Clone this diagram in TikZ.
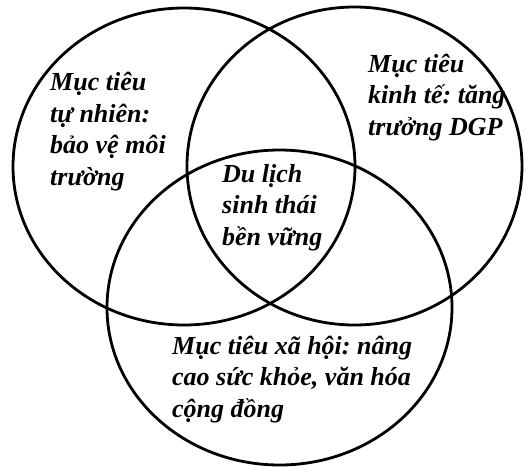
\documentclass[tikz,border=0pt]{standalone}
\usepackage{fontspec}
\setmainfont{Liberation Serif}
\usetikzlibrary{shapes.geometric}
\frenchspacing
\tikzset{
  ring/.style={draw,ellipse,line width=2.8pt,inner sep=0pt},
  goal/.style={anchor=base west,inner sep=0pt,align=left,
    font=\fontsize{26}{31.5}\selectfont\bfseries\itshape}
}
\begin{document}
\begin{tikzpicture}[x=1pt,y=-1pt]
\useasboundingbox (0,0) rectangle (526,466);
\node[ring,minimum width=342pt,minimum height=317pt] (nature) at (184,166.5) {};
\node[ring,minimum width=335pt,minimum height=318pt] (economy) at (354.5,166) {};
\node[ring,minimum width=345pt,minimum height=315pt] (society) at (279.5,307.5) {};
% base anchor sits on the last line
\node[goal] (tnature) at (50,185) {Mục tiêu\\tự nhiên:\\bảo vệ môi\\trường};
\node[goal] (teconomy) at (368,135) {Mục tiêu\\kinh tế: tăng\\trưởng DGP};
\node[goal] (tcore) at (222,245) {Du lịch\\sinh thái\\bền vững};
\node[goal] (tsociety) at (172,417) {Mục tiêu xã hội: nâng\\cao sức khỏe, văn hóa\\cộng đồng};
\end{tikzpicture}
\end{document}
